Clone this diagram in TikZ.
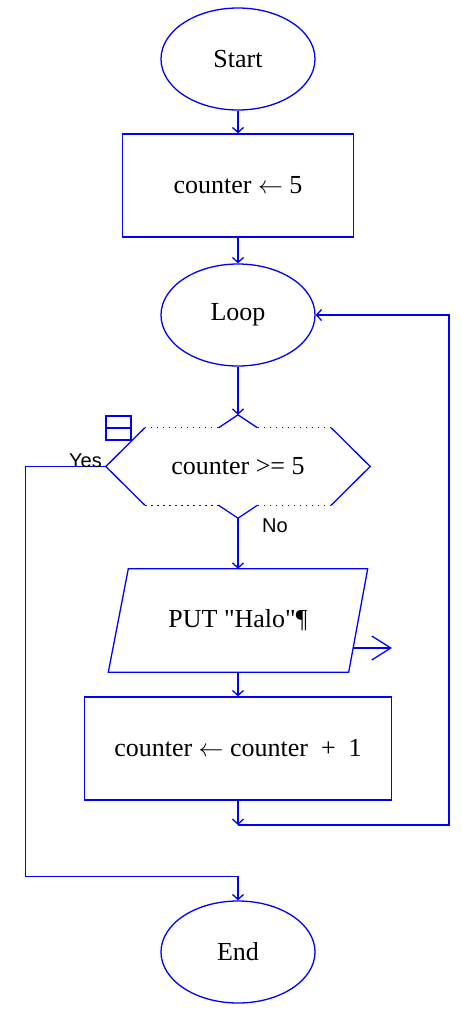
\documentclass[tikz,border=0pt]{standalone}
\usepackage{fontspec}
\newfontfamily\bodyfont{Liberation Serif}
\newfontfamily\tagfont{Liberation Sans}
\usetikzlibrary{arrows.meta,calc,shapes.geometric}
\newcommand{\assignarrow}{\ensuremath{\leftarrow}}
\begin{document}
\begin{tikzpicture}[x=1pt,y=-1pt,
  edge/.style={draw=blue,line width=1.3pt},
  flow/.style={edge,-{Straight Barb[length=5pt,width=11pt]}},
  dotline/.style={dash pattern=on 1.6pt off 4.4pt},
  txt/.style={font=\bodyfont\fontsize{26}{30}\selectfont,text=black,inner sep=0pt},
  term/.style={txt,ellipse,edge,minimum width=154pt,minimum height=102pt},
  proc/.style={txt,rectangle,edge,minimum height=103pt},
  ghost/.style={txt,minimum height=103pt},
  tag/.style={font=\tagfont\fontsize{20}{24}\selectfont,text=black,inner sep=0pt}]

\useasboundingbox (0,0) rectangle (462,1010);

% blocks
\node[term] (start) at (238,59) {Start};
\node[proc,minimum width=231pt] (init) at (238,185.5) {counter \assignarrow{} 5};
\node[term] (loop) at (238,315) {Loop};
\node[ghost,minimum width=264pt] (cond) at (238,466.5) {counter >= 5};
\node[ghost,minimum width=259pt] (put) at (238,620.5) {PUT "Halo"¶};
\node[proc,minimum width=307pt] (step) at (238,748.5) {counter \assignarrow{} counter\ \ +\ \ 1};
\node[term] (endn) at (238,952) {End};

% decision outline: solid corners and notches, dotted long edges
\draw[edge] ($(cond.north)+(-19.5,13)$) -- (cond.north) -- ($(cond.north)+(19.5,13)$);
\draw[edge] ($(cond.north east)+(-39,13)$) -- (cond.east) -- ($(cond.south east)+(-39,-13)$);
\draw[edge] ($(cond.south)+(19.5,-13)$) -- (cond.south) -- ($(cond.south)+(-19.5,-13)$);
\draw[edge] ($(cond.south west)+(39,-13)$) -- (cond.west) -- ($(cond.north west)+(39,13)$);
\draw[edge,dotline] ($(cond.north west)+(39,13)$) -- ($(cond.north)+(-19.5,13)$);
\draw[edge,dotline] ($(cond.north)+(19.5,13)$) -- ($(cond.north east)+(-39,13)$);
\draw[edge,dotline] ($(cond.south east)+(-39,-13)$) -- ($(cond.south)+(19.5,-13)$);
\draw[edge,dotline] ($(cond.south)+(-19.5,-13)$) -- ($(cond.south west)+(39,-13)$);
% small marker box at the decision's corner
\draw[edge] (106,416) rectangle (131,440);
\draw[edge] (106,428) -- (131,428);

% input/output parallelogram
\draw[edge] ($(put.north west)+(20,0)$) -- (put.north east)
  -- ($(put.south east)+(-19,0)$) -- (put.south west) -- cycle;
\coordinate (outA) at (352.5,648);
\coordinate (outB) at (392,648);
\draw[edge,-{Straight Barb[length=19pt,width=24pt]}] (outA) -- (outB);

% connectors
\draw[flow] (start.south) -- (init.north);
\draw[flow] (init.south) -- (loop.north);
\draw[flow] (loop.south) -- (cond.north);
\draw[flow] (cond.south) -- (put.north);
\draw[flow] (put.south) -- (step.north);
\coordinate (merge) at (238,825);
\draw[flow] (step.south) -- (merge);
\draw[flow] (merge) -- ++(211,0) |- (loop.east);
\draw[flow] (cond.west) -- ++(-80,0) |- ($(endn.north)+(0,-24)$) -- (endn.north);

% branch labels
\node[tag,anchor=base east] (yes) at (102,467) {Yes};
\node[tag,anchor=base west] (no) at (262,532) {No};
\end{tikzpicture}
\end{document}
